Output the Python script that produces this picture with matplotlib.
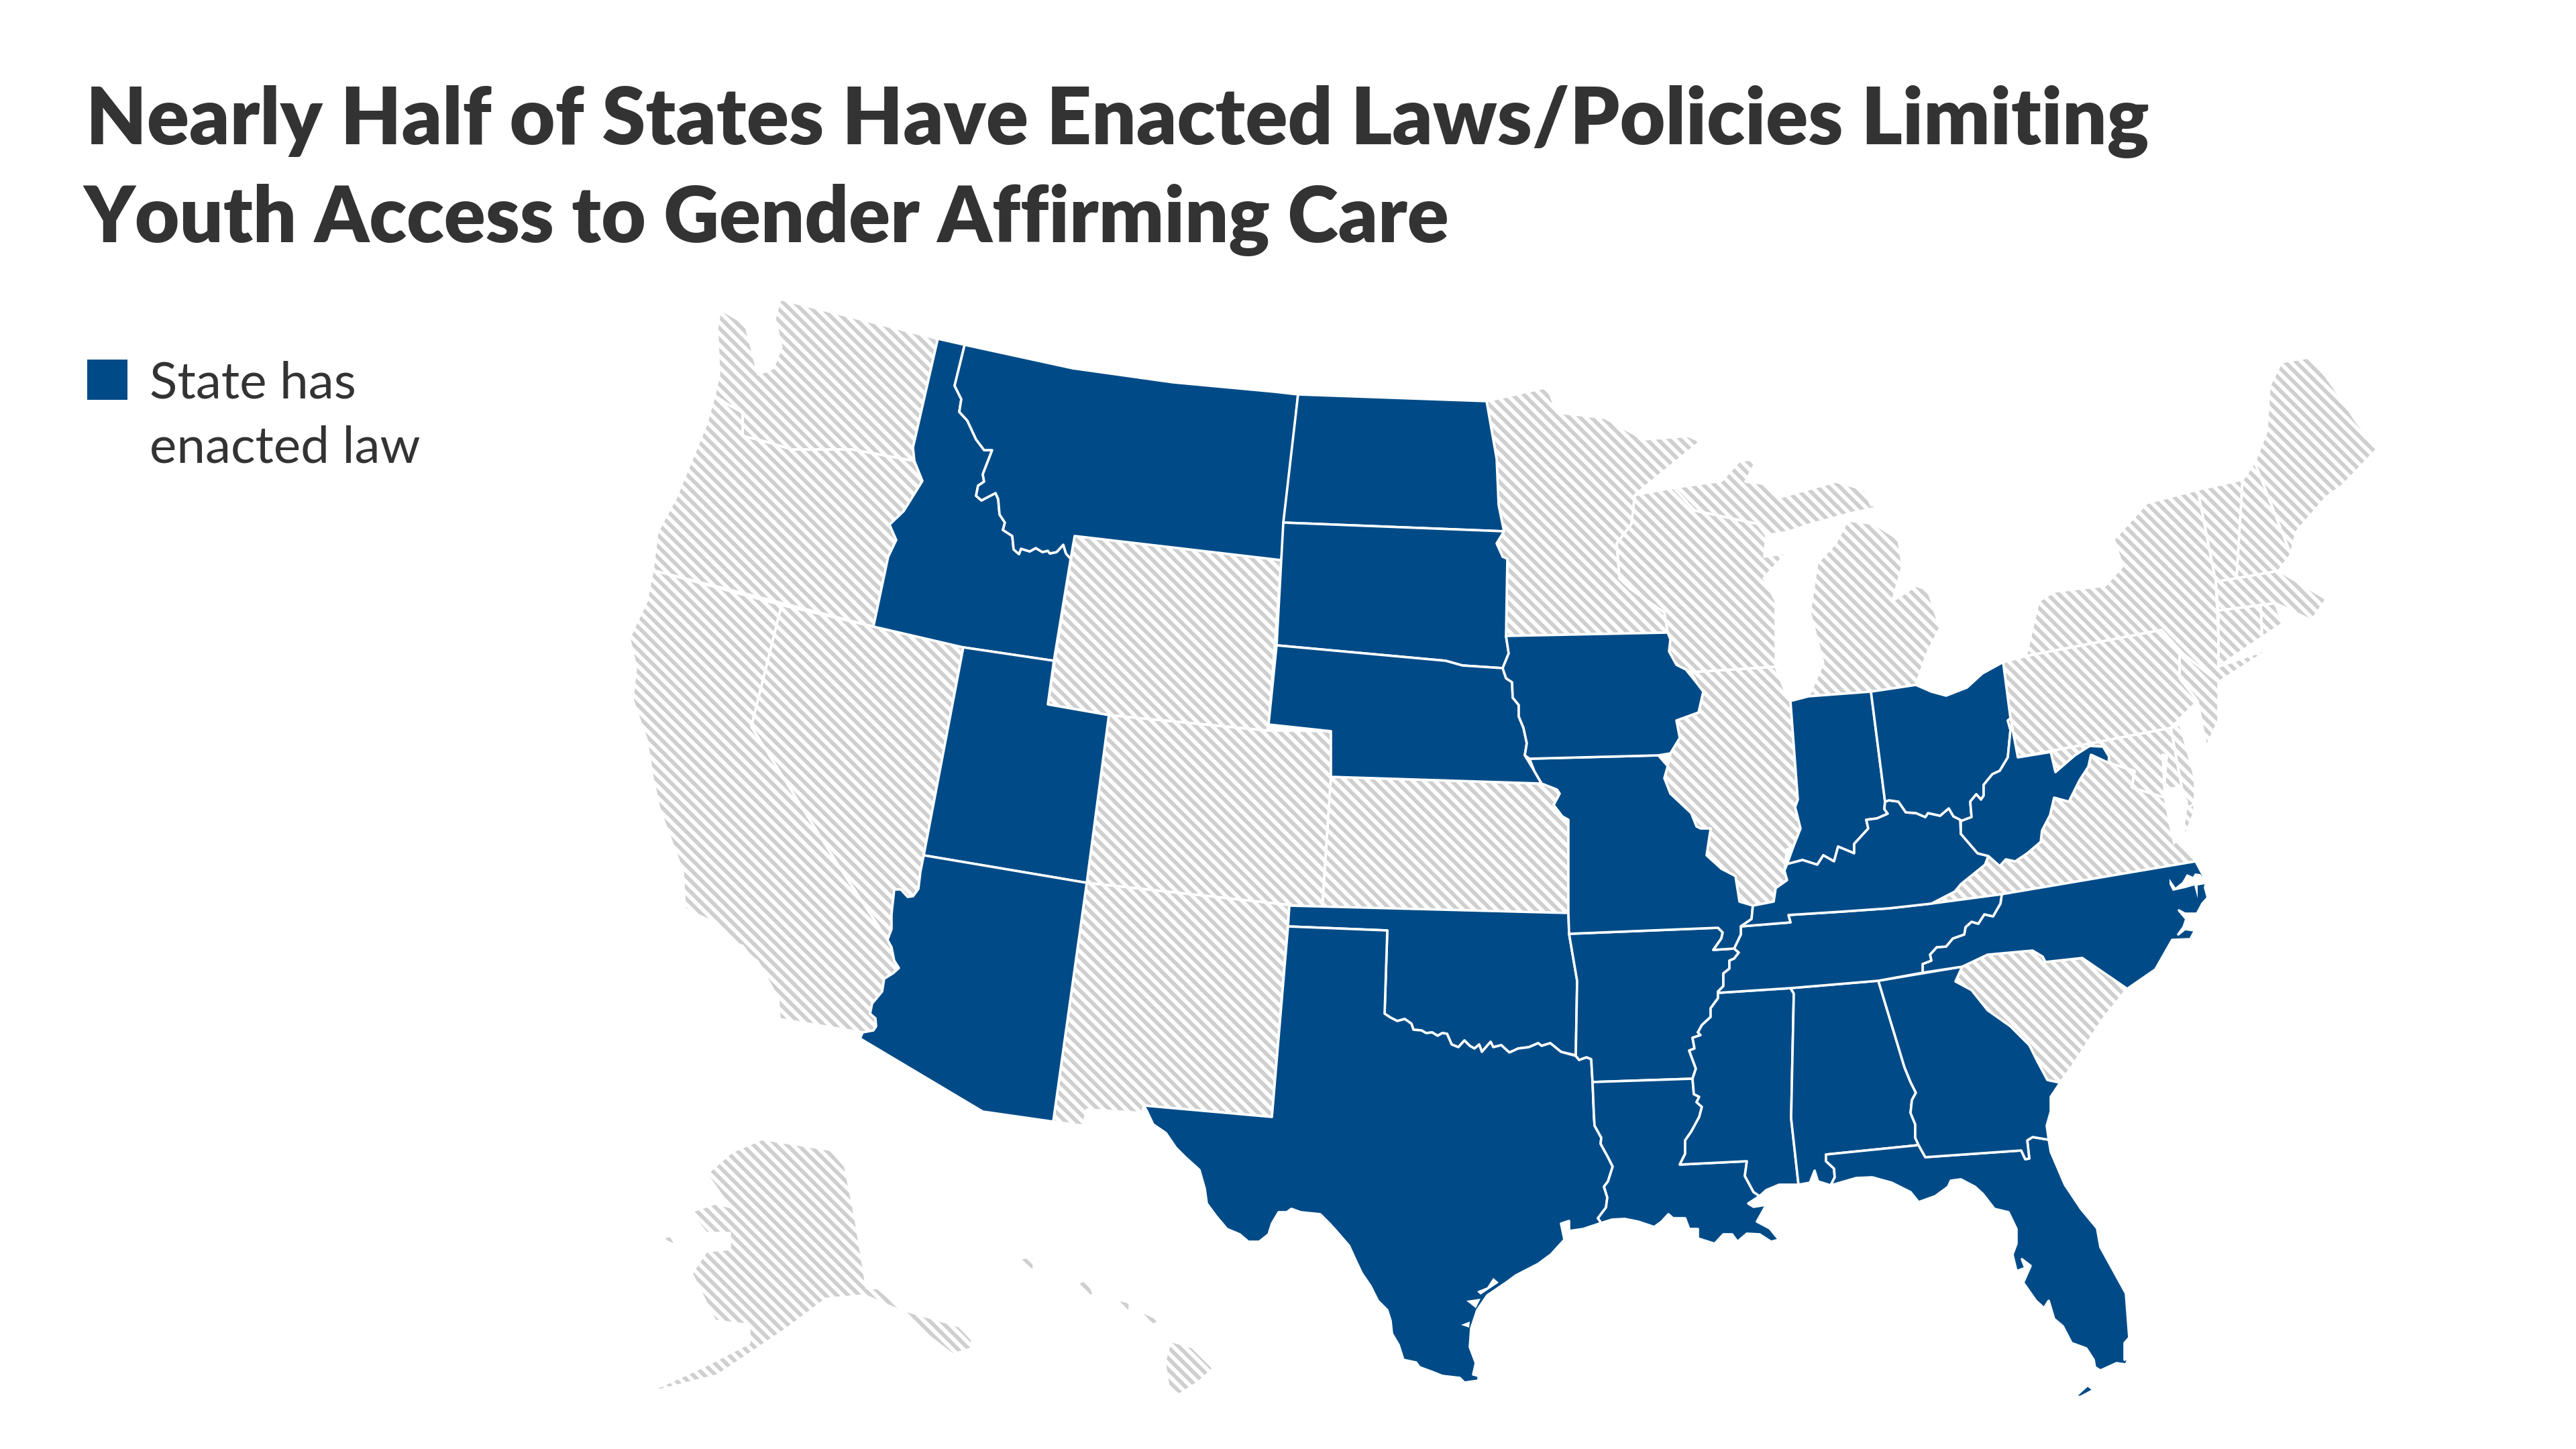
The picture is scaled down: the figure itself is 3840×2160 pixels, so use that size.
# US map of states limiting youth access to gender affirming care.

import matplotlib
matplotlib.use("Agg")
import matplotlib.pyplot as plt
from matplotlib.patches import Polygon

# ---- text --------------------------------------------------------------
title_lines = ["Nearly Half of States Have Enacted Laws/Policies Limiting",
               "Youth Access to Gender Affirming Care"]
legend_lines = ["State has", "enacted law"]

# ---- states with a law --------------------------------------------------
idaho = [(1398,505),(1438,514),(1423,575),(1433,595),(1430,614),(1442,627),(1455,655),(1467,671),(1479,671),(1465,707),(1467,718),(1458,724),(1455,739),(1463,746),(1484,735),(1488,744),(1490,767),(1498,779),(1495,790),(1509,799),(1511,819),(1519,826),(1522,818),(1535,822),(1544,817),(1554,823),(1562,821),(1565,825),(1575,823),(1585,812),(1589,825),(1596,833),(1571,985),(1436,965),(1302,934),(1324,830),(1336,805),(1326,782),(1347,762),(1375,717),(1363,687),(1361,667)]
montana = [(1438,514),(1599,549),(1749,570),(1900,584),(1935,588),(1910,835),(1602,799),(1596,833),(1589,825),(1585,812),(1575,823),(1565,825),(1562,821),(1554,823),(1544,817),(1535,822),(1522,818),(1519,826),(1511,819),(1509,799),(1495,790),(1498,779),(1490,767),(1488,744),(1484,735),(1463,746),(1455,739),(1458,724),(1467,718),(1465,707),(1479,671),(1467,671),(1455,655),(1442,627),(1430,614),(1433,595),(1423,575)]
north_dakota = [(1935,588),(2216,598),(2231,684),(2234,753),(2242,792),(1913,779)]
south_dakota = [(1913,779),(2242,792),(2231,810),(2240,830),(2247,833),(2245,948),(2249,974),(2240,996),(2180,992),(2155,985),(1903,962)]
nebraska = [(1903,962),(2155,985),(2180,992),(2240,996),(2245,1011),(2254,1017),(2255,1040),(2264,1051),(2264,1068),(2271,1085),(2276,1108),(2273,1126),(2287,1149),(2298,1168),(1984,1158),(1984,1090),(1891,1080)]
utah = [(1436,965),(1571,985),(1562,1050),(1653,1066),(1620,1316),(1377,1275)]
arizona = [(1377,1275),(1620,1316),(1570,1672),(1465,1657),(1282,1548),(1286,1539),(1302,1536),(1306,1530),(1305,1518),(1297,1511),(1300,1496),(1315,1478),(1318,1459),(1331,1451),(1340,1443),(1333,1432),(1329,1412),(1323,1401),(1329,1385),(1329,1363),(1333,1326),(1343,1326),(1353,1337),(1361,1336),(1369,1325),(1372,1300)]
oklahoma = [(1922,1350),(2338,1361),(2339,1392),(2351,1462),(2349,1573),(2327,1568),(2311,1555),(2298,1559),(2293,1555),(2279,1561),(2263,1563),(2250,1569),(2238,1558),(2226,1561),(2222,1553),(2209,1568),(2205,1557),(2198,1563),(2191,1559),(2183,1551),(2174,1561),(2164,1557),(2157,1541),(2150,1540),(2143,1544),(2135,1539),(2126,1540),(2119,1536),(2107,1535),(2104,1526),(2094,1519),(2083,1522),(2073,1517),(2064,1511),(2068,1387),(1920,1381)]
texas = [(1920,1381),(2068,1387),(2064,1511),(2073,1517),(2083,1522),(2094,1519),(2104,1526),(2107,1535),(2119,1536),(2126,1540),(2135,1539),(2143,1544),(2150,1540),(2157,1541),(2164,1557),(2174,1561),(2183,1551),(2191,1559),(2198,1563),(2205,1557),(2209,1568),(2222,1553),(2226,1561),(2238,1558),(2250,1569),(2263,1563),(2279,1561),(2293,1555),(2298,1559),(2311,1555),(2327,1568),(2349,1574),(2354,1580),(2365,1576),(2372,1579),(2374,1613),(2376,1662),(2377,1678),(2387,1696),(2386,1705),(2397,1725),(2404,1739),(2397,1761),(2391,1769),(2396,1785),(2394,1800),(2382,1816),(2387,1823),(2360,1832),(2339,1835),(2339,1820),(2327,1824),(2332,1848),(2312,1870),(2293,1884),(2260,1901),(2245,1912),(2217,1931),(2202,1953),(2193,1980),(2191,2008),(2200,2032),(2196,2049),(2204,2051),(2204,2058),(2183,2061),(2176,2054),(2150,2051),(2135,2045),(2116,2038),(2111,2031),(2092,2027),(2085,2005),(2075,1988),(2073,1969),(2068,1953),(2054,1939),(2043,1917),(2030,1898),(2021,1879),(2011,1857),(1992,1835),(1982,1824),(1968,1810),(1939,1807),(1925,1802),(1918,1807),(1906,1807),(1896,1824),(1891,1840),(1877,1851),(1861,1851),(1848,1840),(1829,1832),(1813,1813),(1799,1794),(1796,1772),(1788,1744),(1767,1725),(1753,1711),(1738,1689),(1719,1676),(1710,1657),(1705,1648),(1896,1665)]
arkansas = [(2339,1392),(2561,1383),(2568,1390),(2566,1399),(2554,1416),(2585,1414),(2592,1420),(2585,1429),(2578,1432),(2578,1444),(2569,1451),(2569,1470),(2561,1478),(2561,1488),(2550,1503),(2550,1516),(2537,1528),(2531,1539),(2535,1543),(2523,1547),(2526,1563),(2518,1566),(2528,1593),(2523,1608),(2374,1613),(2372,1579),(2365,1576),(2354,1580),(2349,1574),(2351,1462)]
louisiana = [(2374,1613),(2523,1608),(2525,1631),(2533,1635),(2529,1643),(2537,1650),(2533,1665),(2521,1687),(2512,1700),(2512,1720),(2504,1736),(2604,1731),(2601,1753),(2614,1777),(2623,1783),(2606,1794),(2614,1799),(2633,1796),(2619,1821),(2638,1831),(2652,1848),(2640,1851),(2623,1840),(2604,1839),(2590,1851),(2582,1840),(2569,1840),(2556,1854),(2531,1846),(2531,1832),(2518,1832),(2512,1816),(2494,1816),(2487,1810),(2477,1821),(2466,1829),(2442,1821),(2422,1817),(2403,1818),(2387,1823),(2382,1816),(2394,1800),(2396,1785),(2391,1769),(2397,1761),(2404,1739),(2397,1725),(2386,1705),(2387,1696),(2377,1678),(2376,1662)]
mississippi = [(2561,1480),(2669,1473),(2674,1481),(2670,1667),(2681,1766),(2652,1766),(2633,1774),(2623,1783),(2614,1777),(2601,1753),(2604,1731),(2504,1736),(2512,1720),(2512,1700),(2521,1687),(2533,1665),(2537,1650),(2529,1643),(2533,1635),(2525,1631),(2523,1608),(2528,1593),(2518,1566),(2526,1563),(2523,1547),(2535,1543),(2531,1539),(2537,1528),(2550,1516),(2550,1503),(2561,1488)]
alabama = [(2669,1473),(2800,1462),(2839,1591),(2848,1613),(2856,1629),(2850,1640),(2848,1659),(2855,1676),(2855,1696),(2860,1707),(2722,1721),(2722,1731),(2734,1742),(2735,1755),(2729,1767),(2710,1761),(2705,1745),(2698,1763),(2681,1766),(2670,1667),(2674,1481)]
florida = [(2722,1721),(2860,1707),(2870,1725),(3013,1715),(3019,1728),(3025,1727),(3022,1700),(3030,1695),(3054,1699),(3057,1717),(3078,1766),(3102,1802),(3126,1831),(3131,1859),(3169,1928),(3174,1994),(3167,2002),(3167,2027),(3174,2023),(3169,2034),(3155,2032),(3131,2043),(3123,2038),(3121,2027),(3110,2010),(3088,2002),(3075,1977),(3062,1966),(3054,1939),(3047,1950),(3035,1939),(3016,1912),(3027,1887),(3014,1877),(3019,1890),(3006,1895),(3000,1870),(3006,1854),(3006,1832),(2994,1807),(2973,1802),(2956,1780),(2944,1769),(2923,1758),(2908,1760),(2904,1769),(2885,1783),(2860,1792),(2848,1777),(2820,1763),(2791,1755),(2767,1756),(2729,1767),(2735,1755),(2734,1742),(2722,1731)]
florida_keys = [(3092,2083),(3112,2065),(3121,2072),(3102,2082)]
georgia = [(2800,1462),(2925,1441),(2915,1463),(2939,1476),(2963,1506),(2997,1530),(3025,1558),(3037,1582),(3052,1610),(3071,1614),(3057,1635),(3057,1657),(3051,1678),(3054,1699),(3030,1695),(3022,1700),(3025,1727),(3019,1728),(3013,1715),(2870,1725),(2860,1707),(2855,1696),(2855,1676),(2848,1659),(2850,1640),(2856,1629),(2848,1613),(2839,1591)]
north_carolina = [(2984,1333),(3273,1284),(3289,1314),(3287,1323),(3291,1338),(3283,1347),(3275,1362),(3257,1362),(3248,1357),(3259,1370),(3255,1382),(3247,1393),(3257,1385),(3272,1387),(3265,1400),(3238,1401),(3213,1445),(3171,1474),(3104,1428),(3049,1434),(3045,1426),(3030,1417),(2963,1423),(2925,1441),(2866,1450),(2866,1437),(2879,1432),(2877,1423),(2887,1412),(2901,1411),(2911,1399),(2928,1393),(2930,1382),(2939,1374),(2949,1377),(2958,1363),(2971,1366),(2982,1347)]
tennessee = [(2595,1381),(2669,1375),(2666,1364),(2745,1359),(2816,1354),(2879,1347),(2984,1333),(2982,1347),(2971,1366),(2958,1363),(2949,1377),(2939,1374),(2930,1382),(2928,1393),(2911,1399),(2901,1411),(2887,1412),(2877,1423),(2879,1432),(2866,1437),(2866,1450),(2800,1462),(2669,1473),(2561,1480),(2561,1478),(2569,1470),(2569,1451),(2578,1444),(2578,1432),(2585,1429),(2592,1420),(2585,1414),(2595,1393)]
missouri = [(2280,1131),(2472,1126),(2486,1142),(2481,1160),(2490,1183),(2521,1212),(2529,1232),(2535,1235),(2550,1235),(2544,1275),(2566,1295),(2587,1306),(2593,1344),(2613,1350),(2611,1370),(2595,1381),(2595,1393),(2585,1414),(2554,1416),(2566,1399),(2568,1390),(2561,1383),(2339,1392),(2338,1361),(2338,1222),(2329,1217),(2316,1200),(2325,1183),(2321,1177),(2298,1168),(2287,1149)]
iowa = [(2245,948),(2486,943),(2490,953),(2488,971),(2499,991),(2513,998),(2530,1019),(2539,1031),(2532,1062),(2499,1074),(2504,1100),(2490,1123),(2472,1126),(2280,1131),(2273,1126),(2276,1108),(2271,1085),(2264,1068),(2264,1051),(2255,1040),(2254,1017),(2245,1011),(2240,996),(2249,974)]
indiana = [(2669,1045),(2696,1038),(2789,1031),(2810,1195),(2809,1206),(2814,1213),(2798,1220),(2782,1222),(2785,1235),(2764,1258),(2764,1272),(2740,1262),(2734,1284),(2718,1275),(2709,1289),(2687,1282),(2664,1288),(2673,1263),(2684,1235),(2676,1203),(2680,1192)]
kentucky = [(2664,1288),(2687,1282),(2709,1289),(2718,1275),(2734,1284),(2740,1262),(2764,1272),(2764,1258),(2785,1235),(2782,1222),(2798,1220),(2814,1213),(2809,1206),(2810,1195),(2816,1193),(2830,1195),(2841,1211),(2856,1212),(2870,1218),(2874,1212),(2892,1216),(2905,1205),(2912,1217),(2922,1222),(2923,1243),(2948,1272),(2964,1276),(2959,1289),(2923,1318),(2914,1329),(2883,1345),(2879,1347),(2816,1354),(2745,1359),(2666,1364),(2669,1375),(2595,1381),(2611,1370),(2613,1350),(2644,1344),(2647,1324),(2664,1312),(2660,1298)]
ohio = [(2789,1031),(2856,1021),(2879,1031),(2901,1037),(2932,1025),(2955,1004),(2986,987),(2997,1071),(2993,1074),(2997,1088),(2993,1129),(2981,1149),(2970,1154),(2957,1170),(2957,1186),(2953,1192),(2946,1184),(2937,1195),(2939,1218),(2923,1224),(2922,1222),(2912,1217),(2905,1205),(2892,1216),(2874,1212),(2870,1218),(2856,1212),(2841,1211),(2830,1195),(2816,1193),(2810,1195)]
west_virginia = [(2997,1071),(3008,1129),(3057,1121),(3064,1151),(3093,1126),(3115,1112),(3135,1113),(3144,1128),(3143,1137),(3117,1125),(3113,1143),(3100,1163),(3084,1195),(3062,1189),(3056,1215),(3044,1238),(3042,1255),(3022,1272),(3004,1284),(2990,1281),(2981,1291),(2964,1276),(2948,1272),(2923,1243),(2923,1224),(2939,1218),(2937,1195),(2946,1184),(2953,1192),(2957,1186),(2957,1170),(2970,1154),(2981,1149),(2993,1129),(2997,1088),(2993,1074)]

# ---- states without a law ------------------------------------------------
washington = [(1398,505),(1163,446),(1155,475),(1165,518),(1152,549),(1130,558),(1123,529),(1111,483),(1074,461),(1069,489),(1072,558),(1065,589),(1082,601),(1107,615),(1107,650),(1133,656),(1181,670),(1270,670),(1363,687),(1361,667)]
oregon = [(1065,589),(1053,632),(1008,741),(980,793),(973,850),(1155,896),(1302,934),(1324,830),(1336,805),(1326,782),(1347,762),(1375,717),(1363,687),(1270,670),(1181,670),(1133,656),(1107,650),(1107,615),(1082,601)]
california = [(973,850),(1165,902),(1120,1083),(1251,1292),(1323,1401),(1329,1412),(1333,1432),(1340,1443),(1331,1451),(1318,1459),(1315,1478),(1300,1496),(1297,1511),(1305,1518),(1306,1530),(1302,1536),(1286,1539),(1162,1519),(1160,1489),(1130,1434),(1117,1423),(1107,1410),(1091,1404),(1069,1377),(1021,1355),(1018,1300),(983,1206),(973,1160),(964,1103),(943,1043),(948,994),(938,951),(964,896)]
nevada = [(1165,902),(1302,934),(1436,965),(1377,1275),(1372,1300),(1369,1325),(1361,1336),(1353,1337),(1343,1326),(1333,1326),(1329,1363),(1329,1385),(1323,1401),(1251,1292),(1120,1083)]
wyoming = [(1602,799),(1910,835),(1891,1080),(1889,1089),(1653,1066),(1562,1050)]
colorado = [(1653,1066),(1889,1089),(1984,1090),(1984,1158),(1971,1354),(1922,1349),(1620,1316)]
new_mexico = [(1620,1316),(1922,1349),(1896,1665),(1705,1648),(1703,1659),(1620,1654),(1615,1678),(1570,1672)]
kansas = [(1984,1158),(2298,1168),(2321,1177),(2325,1183),(2316,1200),(2329,1217),(2338,1222),(2338,1361),(1971,1354)]
minnesota = [(2216,598),(2307,577),(2321,615),(2392,623),(2450,655),(2517,650),(2535,658),(2437,738),(2432,781),(2410,810),(2414,862),(2432,879),(2481,913),(2486,943),(2245,948),(2247,833),(2240,830),(2231,810),(2242,792),(2234,753),(2231,684)]
wisconsin = [(2437,738),(2495,727),(2526,761),(2620,781),(2633,798),(2630,830),(2664,824),(2629,862),(2647,896),(2647,994),(2521,1002),(2499,991),(2488,971),(2490,953),(2486,943),(2481,913),(2432,879),(2414,862),(2410,810),(2432,781)]
michigan_upper = [(2495,727),(2566,717),(2593,687),(2620,684),(2602,718),(2629,721),(2655,741),(2736,718),(2780,730),(2789,753),(2816,753),(2763,764),(2700,781),(2664,793),(2633,798),(2620,781),(2526,761)]
michigan_lower = [(2754,776),(2794,781),(2830,804),(2836,844),(2821,896),(2856,873),(2874,879),(2892,936),(2874,971),(2856,1021),(2789,1031),(2696,1038),(2718,988),(2698,913),(2709,839),(2736,810)]
illinois = [(2521,1002),(2647,994),(2660,1028),(2669,1045),(2680,1192),(2676,1203),(2684,1235),(2673,1263),(2664,1266),(2660,1298),(2664,1312),(2647,1324),(2644,1344),(2613,1350),(2593,1344),(2587,1306),(2566,1295),(2544,1275),(2550,1235),(2535,1235),(2529,1232),(2521,1212),(2490,1183),(2481,1160),(2486,1142),(2490,1123),(2504,1100),(2499,1074),(2532,1062),(2539,1031),(2530,1019)]
south_carolina = [(2925,1441),(2963,1423),(3030,1417),(3045,1426),(3049,1434),(3104,1428),(3171,1474),(3135,1519),(3088,1591),(3071,1614),(3052,1610),(3037,1582),(3025,1558),(2997,1530),(2963,1506),(2939,1476),(2915,1463)]
virginia = [(2984,1333),(2879,1347),(2883,1345),(2914,1329),(2923,1318),(2959,1289),(2964,1276),(2981,1291),(2990,1281),(3004,1284),(3022,1272),(3042,1255),(3044,1238),(3056,1215),(3062,1189),(3084,1195),(3100,1163),(3113,1143),(3117,1125),(3143,1137),(3182,1149),(3178,1174),(3227,1189),(3240,1246),(3260,1263),(3273,1284)]
maryland = [(3008,1129),(3236,1085),(3254,1183),(3272,1197),(3240,1220),(3227,1189),(3178,1174),(3182,1149),(3143,1137),(3144,1128),(3135,1113),(3115,1112),(3093,1126),(3064,1151),(3057,1121)]
delmarva_south = [(3254,1183),(3272,1197),(3270,1213),(3257,1247),(3252,1215)]
delaware = [(3236,1085),(3250,1080),(3272,1160),(3272,1197),(3254,1183)]
pennsylvania = [(2986,987),(3020,978),(3222,939),(3249,974),(3249,1011),(3276,1045),(3236,1085),(3008,1129),(2997,1071)]
new_york = [(3020,978),(3039,896),(3062,882),(3138,873),(3164,844),(3151,804),(3200,750),(3276,730),(3303,867),(3307,953),(3307,994),(3388,965),(3307,1017),(3254,974),(3222,939)]
new_jersey = [(3222,939),(3254,974),(3307,1017),(3307,1074),(3289,1114),(3276,1045),(3249,1011),(3249,974)]
vermont = [(3276,730),(3343,715),(3334,862),(3303,867)]
new_hampshire = [(3343,715),(3361,689),(3415,827),(3397,851),(3334,862)]
maine = [(3361,689),(3379,643),(3383,575),(3401,540),(3446,532),(3477,575),(3513,629),(3544,669),(3495,721),(3468,741),(3423,793),(3415,827)]
massachusetts = [(3303,867),(3397,851),(3468,893),(3446,925),(3392,899),(3307,910)]
connecticut = [(3307,910),(3370,902),(3372,950),(3307,994)]
rhode_island = [(3370,902),(3392,899),(3402,930),(3372,950)]
alaska = [(1136,1698),(1091,1717),(1053,1750),(1088,1799),(1066,1794),(1028,1807),(1053,1838),(1088,1838),(1088,1862),(1053,1865),(1031,1898),(1066,1969),(1117,1975),(1117,2002),(1047,2038),(957,2079),(1070,2050),(1174,1980),(1232,1936),(1289,1931),(1340,1953),(1369,1980),(1420,2019),(1449,2010),(1449,1997),(1430,1977),(1347,1953),(1308,1920),(1292,1920),(1276,1821),(1260,1739),(1238,1714)]
alaska_st_lawrence = [(983,1846),(1008,1857),(1000,1842)]
hawaii_kauai = [(1519,1876),(1541,1873),(1541,1895),(1534,1890)]
hawaii_oahu = [(1605,1914),(1621,1906),(1631,1931),(1618,1931)]
hawaii_molokai = [(1662,1936),(1685,1942),(1682,1964)]
hawaii_maui = [(1697,1953),(1733,1969),(1717,1975)]
hawaii_big = [(1745,1999),(1777,2008),(1809,2040),(1787,2060),(1758,2079),(1742,2068),(1736,2030)]

enacted_states = [idaho, montana, north_dakota, south_dakota, nebraska, utah, arizona,
                  oklahoma, texas, arkansas, louisiana, mississippi, alabama, florida,
                  florida_keys, georgia, north_carolina, tennessee, missouri, iowa,
                  indiana, kentucky, ohio, west_virginia]
other_states = [washington, oregon, california, nevada, wyoming, colorado, new_mexico,
                kansas, minnesota, wisconsin, michigan_upper, michigan_lower, illinois,
                south_carolina, virginia, maryland, delmarva_south, delaware, pennsylvania,
                new_york, new_jersey, vermont, new_hampshire, maine, massachusetts,
                connecticut, rhode_island, alaska, alaska_st_lawrence, hawaii_kauai,
                hawaii_oahu, hawaii_molokai, hawaii_maui, hawaii_big]

# water cut into the states: NC sounds, Texas bays, Lake Pontchartrain, Chesapeake
nc_sound = [(3234,1310),(3234,1318),(3239,1328),(3257,1324),(3271,1320),(3276,1339),(3276,1320),(3287,1318),(3289,1314),(3280,1303),(3272,1302),(3269,1307),(3260,1303),(3253,1315),(3243,1323)]
corpus_bay = [(2186,1939),(2207,1936),(2200,1950)]
matagorda_bay = [(2202,1925),(2217,1919),(2226,1905),(2234,1912),(2207,1930)]
baffin_bay = [(2178,1975),(2191,1970),(2190,1979)]
pontchartrain = [(2485,1824),(2502,1828),(2494,1833)]
chesapeake = [(3222,1123),(3232,1125),(3228,1175),(3247,1172),(3262,1195),(3255,1245),(3240,1260),(3232,1225),(3225,1185)]
water_cuts = [nc_sound, corpus_bay, matagorda_bay, baffin_bay, pontchartrain, chesapeake]

BLUE = "#004b87"
HATCH_GRAY = "#cfcfcf"
TEXT = "#333333"

plt.rcParams["hatch.linewidth"] = 4.2

fig = plt.figure(figsize=(38.4, 21.6), dpi=100, facecolor="white")
ax = fig.add_axes([0, 0, 1, 1])
ax.set_xlim(0, 3840)
ax.set_ylim(2160, 0)
ax.axis("off")

# hatch colour comes from the edge colour, so white borders go on as a second patch
for state in other_states:
    ax.add_patch(Polygon(state, closed=True, facecolor="white", edgecolor=HATCH_GRAY,
                         hatch="\\\\", linewidth=0, zorder=1))
for state in other_states:
    ax.add_patch(Polygon(state, closed=True, fill=False, edgecolor="white",
                         linewidth=2.6, joinstyle="round", zorder=2))
for state in enacted_states:
    ax.add_patch(Polygon(state, closed=True, facecolor=BLUE, edgecolor="white",
                         linewidth=2.6, joinstyle="round", zorder=3))
for cut in water_cuts:
    ax.add_patch(Polygon(cut, closed=True, facecolor="white", edgecolor="none", zorder=4))

# title
ax.text(128, 215, title_lines[0], fontsize=84.3, fontweight="heavy", family="Lato",
        color=TEXT, ha="left", va="baseline")
ax.text(125, 361, title_lines[1], fontsize=82.6, fontweight="heavy", family="Lato",
        color=TEXT, ha="left", va="baseline")

# legend
ax.add_patch(Polygon([(130, 536), (190, 536), (190, 596), (130, 596)], closed=True,
                     facecolor=BLUE, edgecolor="none"))
ax.text(223, 594, legend_lines[0], fontsize=55, family="Lato",
        color=TEXT, ha="left", va="baseline")
ax.text(223, 690, legend_lines[1], fontsize=55, family="Lato",
        color=TEXT, ha="left", va="baseline")

fig.savefig("out.png", dpi=100)
plt.close(fig)
